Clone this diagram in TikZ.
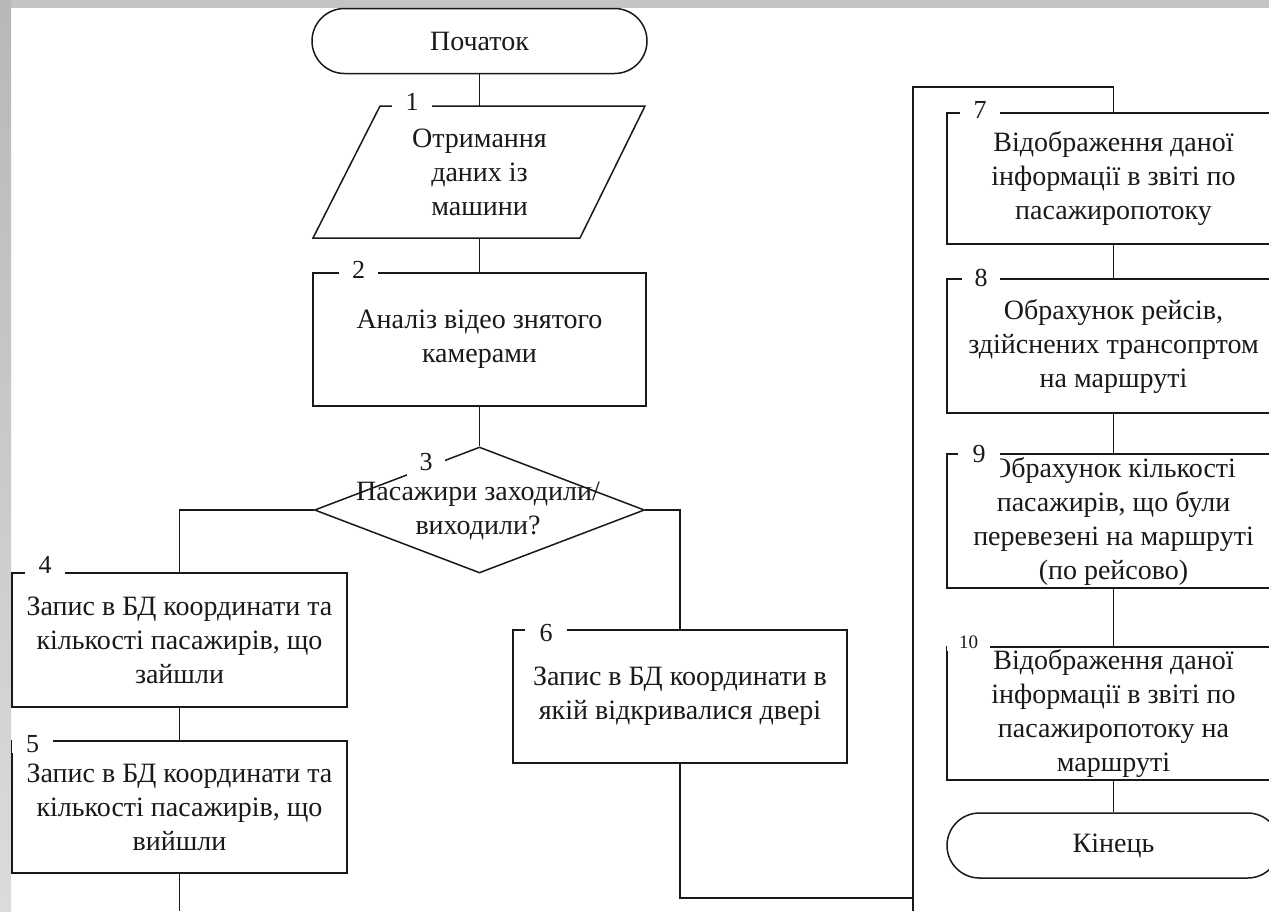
\documentclass[tikz,border=0pt]{standalone}
\usepackage{fontspec}
\setmainfont{Liberation Serif}
\usetikzlibrary{shapes.geometric}
\newcommand\mytxt{\fontsize{28pt}{34pt}\selectfont}
\newcommand\mynum{\fontsize{26pt}{28pt}\selectfont}
\newcommand\mynumsm{\fontsize{19pt}{21pt}\selectfont}
\tikzset{
  ln/.style={line width=1.5pt, draw=black!90},
  boxnode/.style={rectangle, draw=black!90, line width=1.5pt, minimum width=334pt,
    minimum height=133pt, align=center, inner sep=0pt, font=\mytxt, text=black!90},
  termnode/.style={rectangle, rounded corners=32.5pt, draw=black!90, line width=1.5pt,
    minimum width=335pt, minimum height=65pt, inner sep=0pt, font=\mytxt, text=black!90},
  plaintext/.style={align=center, inner sep=0pt, font=\mytxt, text=black!90},
  numlbl/.style={fill=white, inner sep=0pt, minimum width=40pt, minimum height=22pt,
    font=\mynum, text=black!90},
}
\begin{document}
\begin{tikzpicture}[x=1pt,y=-1pt]
\useasboundingbox (0,0) rectangle (1269,911);
\clip (0,0) rectangle (1269,911);
\fill[white] (0,0) rectangle (1269,911);
% frame bands
\fill[black!23] (0,0) rectangle (1269,8);
\shade[top color=black!28, bottom color=black!14] (0,0) rectangle (11,911);

% left/middle column
\node[termnode] (start) at (479.5,41) {Початок};
\draw[ln] (380,106) -- (645,106) -- (580,238) -- (313,238) -- cycle;
\node[plaintext, minimum height=132pt, minimum width=10pt] (p1) at (479.5,172)
  {Отримання\\даних із\\машини};
\node[boxnode, minimum width=333pt] (b2) at (479.5,339.5) {Аналіз відео знятого\\камерами};
\node[diamond, draw=black!90, line width=1.5pt, minimum width=330pt, minimum height=126pt,
  inner sep=0pt] (d3) at (479.5,510) {};
\node[boxnode, minimum width=335pt, minimum height=134pt] (b4) at (179.5,640)
  {Запис в БД координати та\\кількості пасажирів, що\\зайшли};
\node[boxnode, minimum width=335pt, minimum height=132pt] (b5) at (179.5,807)
  {Запис в БД координати та\\кількості пасажирів, що\\вийшли};
\node[boxnode] (b6) at (680,696.5) {Запис в БД координати в\\якій відкривалися двері};

% right column
\node[boxnode, minimum width=333pt, minimum height=131pt] (b7) at (1113.5,178.5)
  {Відображення даної\\інформації в звіті по\\пасажиропотоку};
\node[boxnode, minimum width=333pt, minimum height=134pt] (b8) at (1113.5,346)
  {Обрахунок рейсів,\\здійснених трансопртом\\на маршруті};
\node[boxnode, minimum width=333pt, minimum height=134pt] (b9) at (1113.5,521)
  {Обрахунок кількості\\пасажирів, що були\\перевезені на маршруті\\(по рейсово)};
\node[boxnode, minimum width=333pt, minimum height=133pt] (b10) at (1113.5,713.5)
  {Відображення даної\\інформації в звіті по\\пасажиропотоку на\\маршруті};
\node[termnode, minimum width=333pt] (end) at (1113.5,845.5) {Кінець};

% junction coordinates
\coordinate (j6) at (913,898);
\coordinate (jtop) at (913,87);
\coordinate (jbot) at (913,911);
\coordinate (b5out) at (179.5,911);

% connectors
\draw[ln] (start.south) -- (p1.north);
\draw[ln] (p1.south) -- (b2.north);
\draw[ln] (b2.south) -- (d3.north);
\draw[ln] (d3.west) -| (b4.north);
\draw[ln] (d3.east) -| (b6.north);
\draw[ln] (b4.south) -- (b5.north);
\draw[ln] (b5.south) -- (b5out);
\draw[ln] (b6.south) |- (j6);
\draw[ln] (jbot) -- (jtop) -| (b7.north);
\draw[ln] (b7.south) -- (b8.north);
\draw[ln] (b8.south) -- (b9.north);
\draw[ln] (b9.south) -- (b10.north);
\draw[ln] (b10.south) -- (end.north);

% diamond text
\node[plaintext] (t3) at (478,511) {Пасажири заходили/\\виходили?};

% number labels
\node[numlbl] (l1) at (412,102) {1};
\node[numlbl, minimum width=39pt] (l2) at (358.5,270) {2};
\node[numlbl, minimum width=38pt, minimum height=30pt] (l3) at (426,462) {3};
\node[numlbl] (l4) at (45,565) {4};
\node[numlbl, minimum width=41pt, minimum height=16pt] (l5) at (32.5,744) {5};
\node[numlbl, minimum width=42pt] (l6) at (546,633) {6};
\node[numlbl] (l7) at (980,110) {7};
\node[numlbl, minimum width=38pt] (l8) at (981,278) {8};
\node[numlbl, minimum width=42pt, minimum height=46pt, text depth=25pt, text height=18pt] (l9) at (979,466) {9};
\node[numlbl, minimum width=43pt, minimum height=18pt, font=\mynumsm] (l10) at (968.5,642) {10};
\end{tikzpicture}
\end{document}
